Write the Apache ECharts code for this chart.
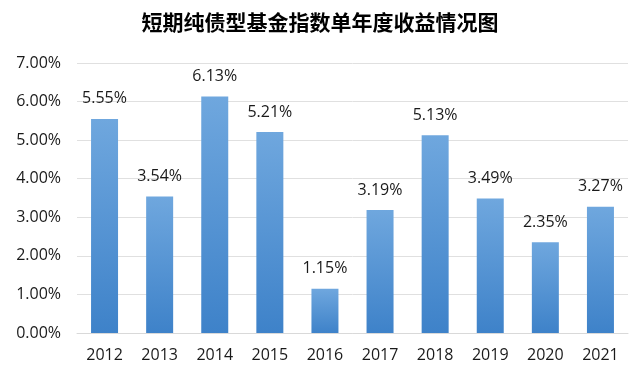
<!DOCTYPE html>
<html><head><meta charset="utf-8">
<script src="https://cdn.jsdelivr.net/npm/echarts@6/dist/echarts.min.js"></script>
<style>html,body{margin:0;padding:0;background:#fff}#c{width:640px;height:376px}</style>
</head><body><div id="c"></div>
<script>
const years = ['2012','2013','2014','2015','2016','2017','2018','2019','2020','2021'];
const returns = [5.55, 3.54, 6.13, 5.21, 1.15, 3.19, 5.13, 3.49, 2.35, 3.27];
const chartTitle = '短期纯债型基金指数单年度收益情况图';
const font = '"Open Sans","Noto Sans CJK SC",sans-serif';
const chart = echarts.init(document.getElementById('c'));
chart.setOption({
  animation: false,
  title: { text: chartTitle, left: 'center', top: 7,
    textStyle: { fontFamily: '"Noto Sans CJK SC",sans-serif', fontSize: 21, fontWeight: 'bold', color: '#000' } },
  grid: { left: 77, right: 12, top: 63, bottom: 43 },
  xAxis: { type: 'category', data: years,
    axisLine: { lineStyle: { color: '#d9d9d9' } }, axisTick: { show: false },
    axisLabel: { color: '#1a1a1a', fontSize: 16, fontFamily: font, margin: 14 } },
  yAxis: { type: 'value', min: 0, max: 7, interval: 1,
    axisLabel: { color: '#1a1a1a', fontSize: 16, fontFamily: font, margin: 16, formatter: v => v.toFixed(2) + '%' },
    splitLine: { lineStyle: { color: '#e0e0e0' } } },
  series: [{ type: 'bar', data: returns, barWidth: '49%',
    itemStyle: { color: new echarts.graphic.LinearGradient(0,0,0,1,[{offset:0,color:'#6fa7de'},{offset:1,color:'#3e82c9'}]) },
    label: { show: true, position: 'top', distance: 12, color: '#1a1a1a', fontSize: 16, fontFamily: font,
      formatter: p => p.value.toFixed(2) + '%' } }]
});
</script></body></html>
